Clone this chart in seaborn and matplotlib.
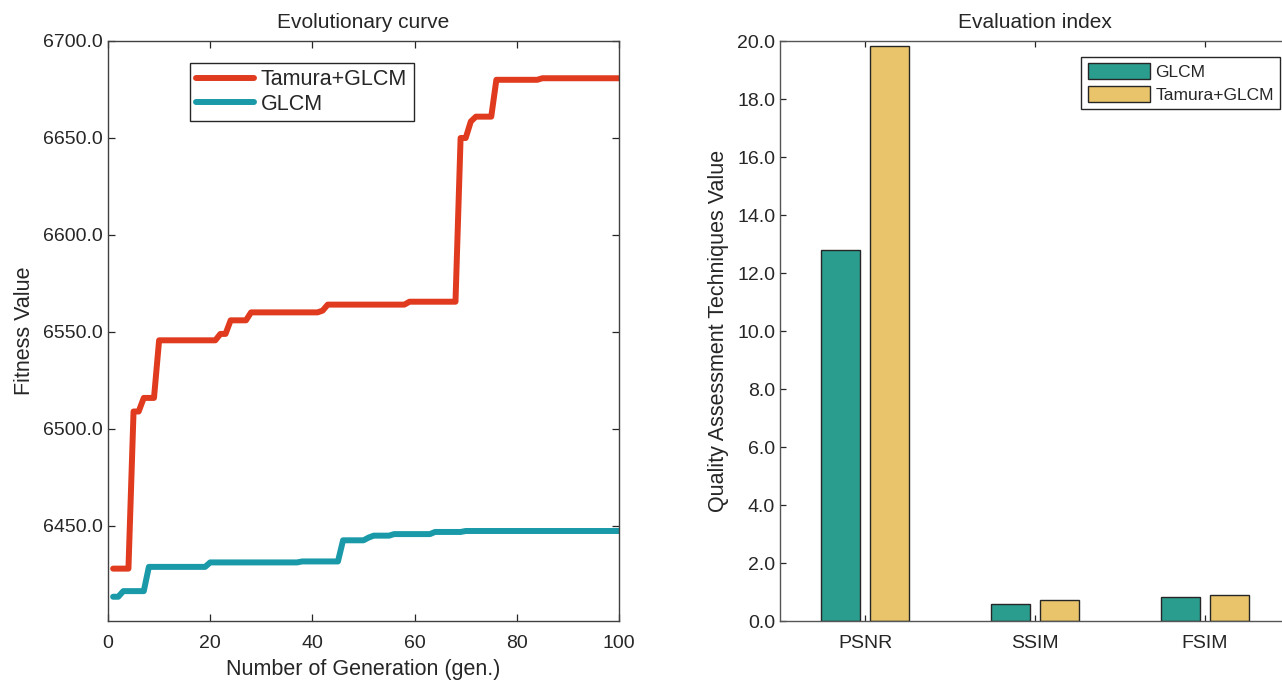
import matplotlib
matplotlib.use('Agg')
import matplotlib.pyplot as plt
import numpy as np
import pandas as pd
import seaborn as sns

# ---- data ----
generations = list(range(1, 101))

fitness_tamura_glcm = (
    [6428.0] * 4 + [6509.0] * 2 + [6516.0] * 3 + [6545.7] * 12 + [6549.0] * 2
    + [6556.0] * 4 + [6560.1] * 14 + [6561.0] * 1 + [6564.1] * 16 + [6565.6] * 10
    + [6650.0] * 2 + [6658.5] * 1 + [6661.0] * 4 + [6680.0] * 9 + [6680.8] * 16
)
fitness_glcm = (
    [6413.5] * 2 + [6416.4] * 5 + [6428.9] * 12 + [6431.2] * 18 + [6431.7] * 8
    + [6442.6] * 5 + [6444.0] * 1 + [6445.0] * 4 + [6445.8] * 8 + [6446.9] * 6
    + [6447.4] * 31
)

metrics = ['PSNR', 'SSIM', 'FSIM']
score_glcm = [12.78, 0.59, 0.84]
score_tamura_glcm = [19.83, 0.71, 0.89]

LINE_COLORS = {'Tamura+GLCM': '#e03b1f', 'GLCM': '#1a9aa8'}
BAR_COLORS = {'GLCM': '#2a9d8f', 'Tamura+GLCM': '#e9c46a'}

sns.set_style('white')
plt.rcParams['font.family'] = ['Liberation Sans', 'DejaVu Sans']
plt.rcParams['xtick.direction'] = 'in'
plt.rcParams['ytick.direction'] = 'in'

fig = plt.figure(figsize=(12.82, 6.8), dpi=100)
ax1 = fig.add_axes([108 / 1282, 59 / 680, 511 / 1282, 580 / 680])
ax2 = fig.add_axes([780 / 1282, 59 / 680, 510 / 1282, 580 / 680])

# ---- left: evolutionary curve ----
curve_df = pd.DataFrame({
    'gen': generations * 2,
    'fitness': fitness_tamura_glcm + fitness_glcm,
    'method': ['Tamura+GLCM'] * len(generations) + ['GLCM'] * len(generations),
})
sns.lineplot(data=curve_df, x='gen', y='fitness', hue='method',
             hue_order=['Tamura+GLCM', 'GLCM'], palette=LINE_COLORS,
             linewidth=4.3, ax=ax1)
ax1.set_xlim(0, 100)
ax1.set_ylim(6401, 6700)
ax1.set_xticks(range(0, 101, 20))
ax1.set_yticks(range(6450, 6701, 50))
ax1.yaxis.set_major_formatter(matplotlib.ticker.FormatStrFormatter('%.1f'))
ax1.tick_params(axis='both', labelsize=14, length=5, width=0.9, colors='#262626',
                bottom=True, left=True, top=True, right=True)
ax1.tick_params(axis='x', pad=10)
ax1.set_title('Evolutionary curve', fontsize=15, pad=9)
ax1.set_xlabel('Number of Generation (gen.)', fontsize=15.5, labelpad=5)
ax1.set_ylabel('Fitness Value', fontsize=15.5, labelpad=6)
for sp in ax1.spines.values():
    sp.set_color('#404040')
    sp.set_linewidth(1.0)
leg1 = ax1.legend(loc='upper left', bbox_to_anchor=(0.16, 0.962), borderaxespad=0,
                  fontsize=15.5, handlelength=2.7, handletextpad=0.3,
                  labelspacing=0.15, borderpad=0.3, fancybox=False, framealpha=1)
leg1.get_frame().set_edgecolor('#262626')
leg1.get_frame().set_linewidth(1.0)

# ---- right: evaluation index ----
bar_df = pd.DataFrame({
    'metric': metrics * 2,
    'value': score_glcm + score_tamura_glcm,
    'method': ['GLCM'] * len(metrics) + ['Tamura+GLCM'] * len(metrics),
})
sns.barplot(data=bar_df, x='metric', y='value', hue='method',
            hue_order=['GLCM', 'Tamura+GLCM'], palette=BAR_COLORS,
            width=0.57, gap=0.2, edgecolor='#262626', linewidth=1.0,
            saturation=1, ax=ax2)
ax2.set_xlim(-0.5, 2.5)
ax2.set_ylim(0, 20)
ax2.set_yticks(np.arange(0, 20.1, 2))
ax2.yaxis.set_major_formatter(matplotlib.ticker.FormatStrFormatter('%.1f'))
ax2.tick_params(axis='both', labelsize=14, length=4, width=0.9, colors='#262626',
                bottom=True, left=True, top=True, right=True)
ax2.tick_params(axis='x', pad=10)
ax2.set_title('Evaluation index', fontsize=15, pad=9)
ax2.set_xlabel('')
ax2.set_ylabel('Quality Assessment Techniques Value', fontsize=15.5, labelpad=6)
for sp in ax2.spines.values():
    sp.set_color('#555555')
    sp.set_linewidth(1.0)
leg2 = ax2.legend(loc='upper right', bbox_to_anchor=(0.98, 0.972), borderaxespad=0,
                  fontsize=12.5, handlelength=3.6, handleheight=1.0,
                  handletextpad=0.3, labelspacing=0.35, borderpad=0.35,
                  fancybox=False, framealpha=1, title=None)
leg2.get_frame().set_edgecolor('#262626')
leg2.get_frame().set_linewidth(1.0)

fig.savefig('out.png', dpi=100)
plt.close(fig)
